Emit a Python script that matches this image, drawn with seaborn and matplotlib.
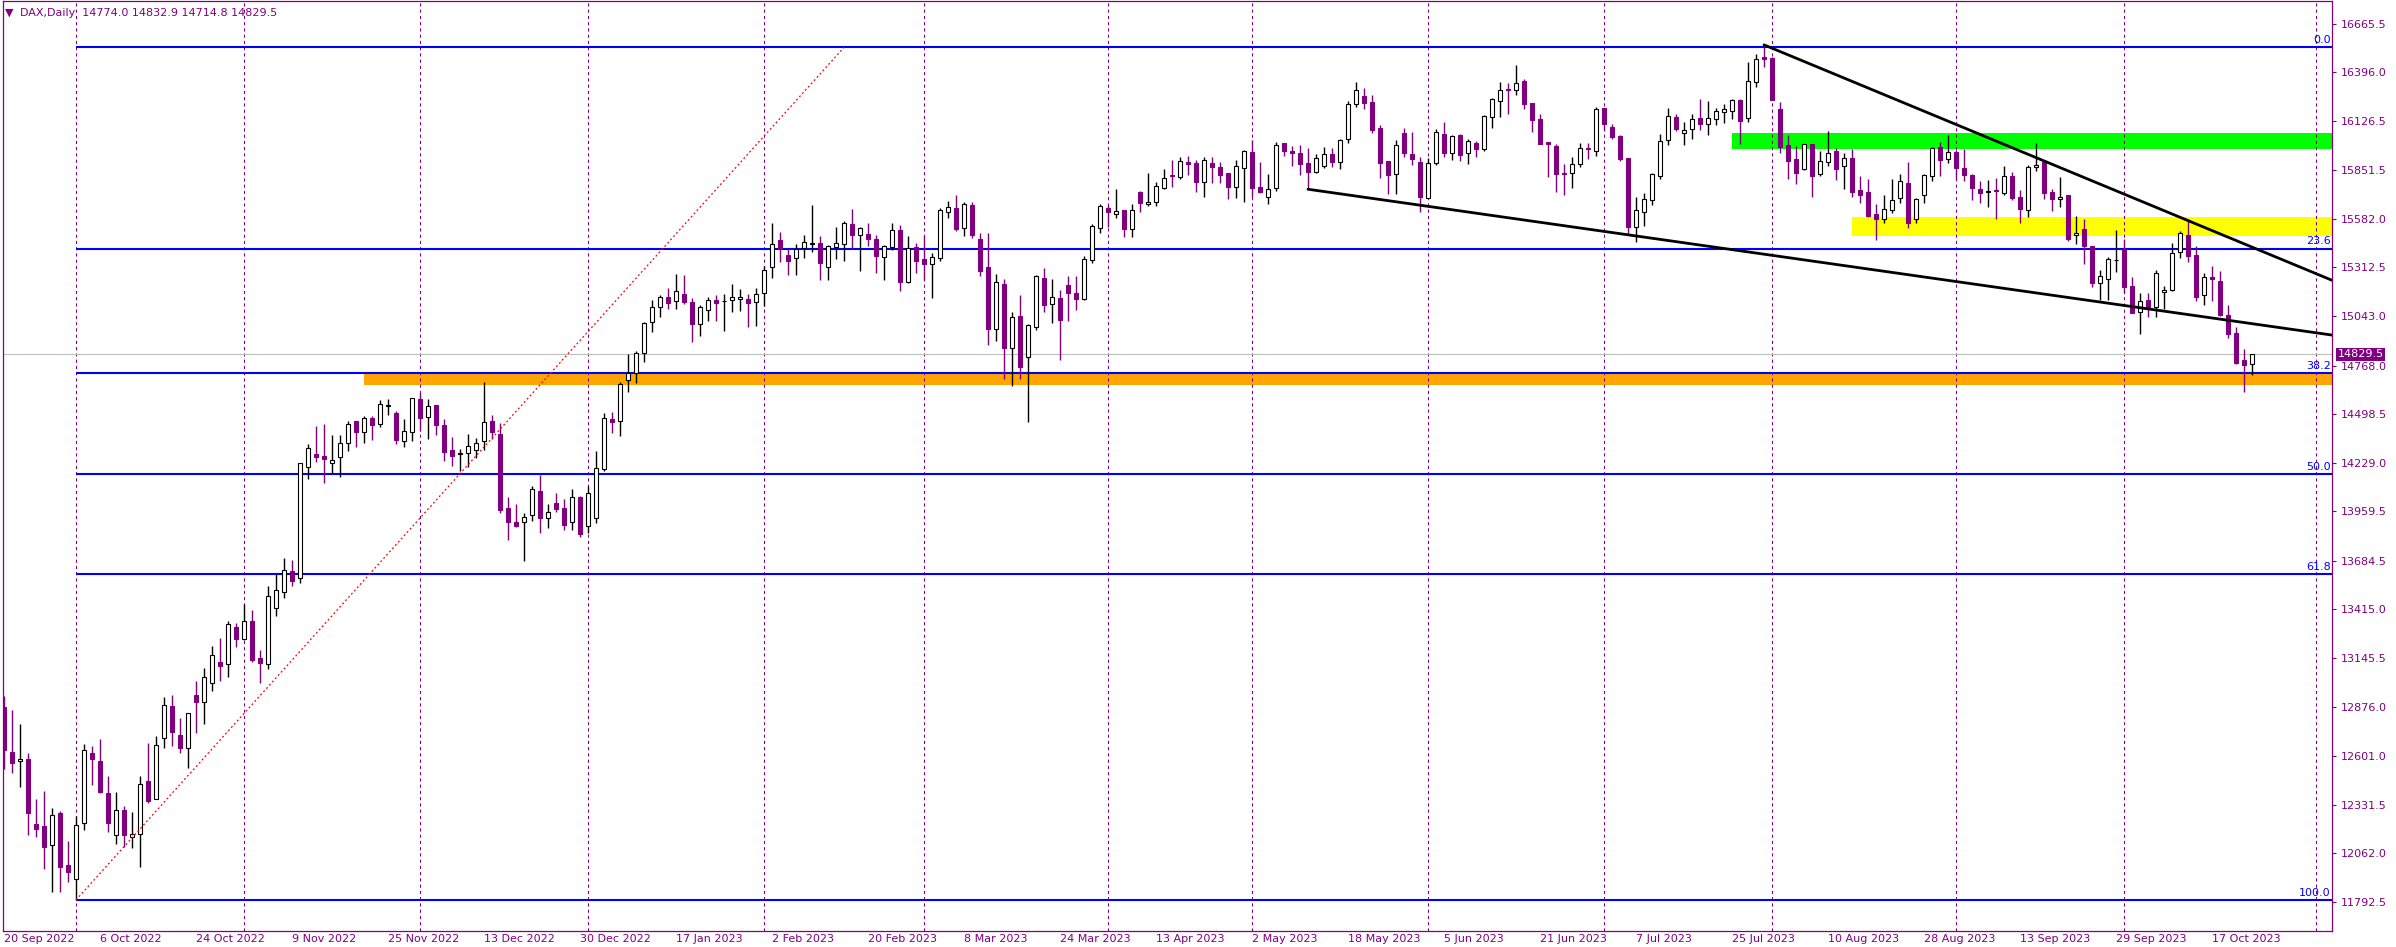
import numpy as np
import pandas as pd
import matplotlib
matplotlib.use("Agg")
import matplotlib.pyplot as plt
from matplotlib.transforms import blended_transform_factory
import seaborn as sns

sns.set_theme(style="white")
plt.rcParams['font.family'] = ['DejaVu Sans']

PURPLE = '#800080'

# trading days on the chart (Xetra holidays removed)
holidays = pd.to_datetime(['2022-12-26', '2023-04-07', '2023-04-10', '2023-05-01'])
dates = pd.bdate_range('2022-09-20', '2023-10-24')
dates = dates[~dates.isin(holidays)]

# daily OHLC
opens = [12872, 12622, 12572, 12585, 12224, 12213, 12106, 12283, 11997, 11917, 12228, 12616,
         12574, 12394, 12161, 12302, 12152, 12167, 12463, 12361, 12700, 12879, 12716, 12644,
         12940, 12903, 13005, 13123, 13114, 13317, 13249, 13351, 13145, 13110, 13421, 13510,
         13626, 13587, 14203, 14277, 14266, 14227, 14259, 14336, 14460, 14401, 14475, 14442,
         14543, 14503, 14351, 14401, 14582, 14481, 14549, 14438, 14299, 14275, 14281, 14299,
         14349, 14460, 14388, 13976, 13900, 13898, 13937, 14072, 13920, 14003, 13976, 13898,
         14037, 13878, 13920, 14192, 14469, 14462, 14688, 14725, 14836, 15008, 15091, 15146,
         15126, 15163, 15119, 14996, 15076, 15130, 15124, 15130, 15135, 15135, 15119, 15168,
         15313, 15464, 15381, 15363, 15418, 15440, 15446, 15313, 15424, 15440, 15553, 15490,
         15498, 15470, 15368, 15424, 15520, 15233, 15424, 15359, 15329, 15366, 15618, 15640,
         15533, 15658, 15470, 15316, 14969, 15220, 14867, 15043, 14813, 14983, 15253, 15107,
         15141, 15215, 15172, 15135, 15352, 15529, 15640, 15607, 15631, 15524, 15731, 15664,
         15673, 15755, 15825, 15816, 15895, 15892, 15784, 15892, 15869, 15836, 15760, 15862,
         15953, 15758, 15705, 15755, 16003, 15956, 15947, 15890, 15842, 15877, 15942, 15899,
         16023, 16217, 16263, 16230, 16086, 15903, 15832, 16058, 15942, 15897, 15699, 15890,
         16052, 15945, 16047, 15945, 16003, 15967, 16145, 16236, 16302, 16295, 16347, 16224,
         16134, 16006, 15986, 15836, 15834, 15884, 15975, 15958, 16195, 16089, 16041, 15919,
         15538, 15622, 15684, 15821, 16017, 16145, 16056, 16078, 16139, 16106, 16137, 16173,
         16182, 16241, 16139, 16343, 16478, 16474, 16191, 15991, 15914, 15856, 15995, 15832,
         15899, 15956, 15875, 15919, 15742, 15729, 15609, 15583, 15633, 15696, 15779, 15579,
         15712, 15821, 15978, 15912, 15951, 15866, 15825, 15747, 15731, 15742, 15727, 15819,
         15701, 15631, 15868, 15899, 15731, 15690, 15714, 15492, 15525, 15431, 15228, 15246,
         15352, 15413, 15209, 15063, 15130, 15095, 15174, 15187, 15396, 15492, 15381, 15159,
         15257, 15237, 15048, 14947, 14799, 14774.0]
highs = [12935, 12857, 12779, 12616, 12361, 12407, 12311, 12296, 12130, 12269, 12668, 12657,
         12696, 12491, 12402, 12324, 12289, 12491, 12676, 12713, 12929, 12940, 12812, 12838,
         13018, 13088, 13212, 13258, 13351, 13339, 13445, 13412, 13190, 13545, 13609, 13700,
         13689, 14225, 14333, 14432, 14443, 14382, 14382, 14462, 14462, 14490, 14488, 14577,
         14582, 14516, 14469, 14586, 14614, 14580, 14549, 14469, 14370, 14305, 14388, 14364,
         14675, 14493, 14447, 14040, 14000, 13948, 14101, 14161, 14000, 14059, 14026, 14081,
         14044, 14100, 14296, 14503, 14508, 14678, 14832, 14850, 15011, 15132, 15157, 15196,
         15276, 15270, 15141, 15104, 15146, 15159, 15165, 15220, 15193, 15165, 15196, 15320,
         15560, 15511, 15413, 15442, 15492, 15659, 15487, 15437, 15535, 15572, 15636, 15535,
         15557, 15492, 15438, 15560, 15548, 15487, 15446, 15487, 15390, 15640, 15683, 15714,
         15677, 15677, 15501, 15505, 15276, 15248, 15067, 15159, 14998, 15270, 15311, 15248,
         15187, 15266, 15266, 15376, 15553, 15664, 15659, 15745, 15631, 15664, 15736, 15834,
         15788, 15856, 15908, 15927, 15930, 15908, 15923, 15927, 15897, 15838, 15908, 15964,
         16019, 15897, 15831, 16008, 16003, 15986, 15990, 15973, 15942, 15982, 15975, 16027,
         16236, 16343, 16306, 16269, 16102, 15903, 16019, 16084, 16064, 15927, 15917, 16080,
         16119, 16047, 16051, 16027, 16016, 16156, 16250, 16343, 16337, 16435, 16356, 16224,
         16163, 16010, 15995, 15884, 15927, 16001, 16001, 16204, 16195, 16106, 16045, 15919,
         15703, 15727, 15838, 16052, 16195, 16163, 16119, 16163, 16245, 16236, 16195, 16219,
         16245, 16247, 16450, 16496, 16533, 16478, 16232, 16045, 15986, 15995, 15995, 15960,
         16069, 15973, 15945, 15969, 15821, 15803, 15664, 15714, 15803, 15831, 15895, 15699,
         15829, 15978, 16006, 16045, 15964, 15967, 15831, 15793, 15797, 15807, 15875, 15843,
         15742, 15880, 16001, 15899, 15745, 15812, 15714, 15597, 15581, 15431, 15298, 15372,
         15520, 15468, 15261, 15172, 15169, 15298, 15209, 15446, 15516, 15579, 15433, 15283,
         15320, 15294, 15104, 14980, 14858, 14832.9]
lows = [12528, 12505, 12431, 12163, 12150, 11973, 11849, 11849, 11904, 11803, 12191, 12441,
        12398, 12182, 12111, 12099, 12089, 11984, 12343, 12361, 12644, 12659, 12616, 12533,
        12731, 12777, 12964, 13020, 13042, 13208, 13245, 13125, 13008, 13082, 13380, 13480,
        13547, 13563, 14140, 14235, 14118, 14170, 14148, 14296, 14318, 14336, 14355, 14429,
        14493, 14333, 14318, 14351, 14407, 14358, 14382, 14240, 14210, 14185, 14207, 14253,
        14299, 14358, 13952, 13800, 13870, 13685, 13907, 13837, 13865, 13957, 13855, 13855,
        13815, 13837, 13896, 14185, 14395, 14379, 14623, 14669, 14789, 14952, 15039, 15080,
        15080, 15109, 14900, 14934, 15017, 15017, 14961, 15067, 15072, 14983, 14989, 15100,
        15255, 15340, 15270, 15270, 15363, 15400, 15242, 15242, 15357, 15350, 15413, 15294,
        15431, 15283, 15242, 15409, 15183, 15224, 15283, 15242, 15144, 15350, 15585, 15516,
        15487, 15474, 15266, 14882, 14906, 14691, 14654, 14691, 14456, 14965, 15067, 15006,
        14799, 15017, 15076, 15131, 15335, 15501, 15538, 15584, 15479, 15483, 15622, 15655,
        15653, 15749, 15760, 15801, 15825, 15733, 15705, 15783, 15783, 15694, 15699, 15677,
        15705, 15727, 15662, 15738, 15932, 15877, 15823, 15746, 15838, 15862, 15871, 15856,
        16001, 16204, 16193, 16060, 15807, 15720, 15720, 15923, 15881, 15622, 15696, 15881,
        15923, 15908, 15905, 15886, 15923, 15958, 16088, 16145, 16162, 16269, 16189, 16065,
        15995, 15812, 15733, 15712, 15755, 15871, 15916, 15932, 16075, 16023, 15904, 15498,
        15455, 15544, 15659, 15803, 15991, 16071, 15991, 16025, 16075, 16047, 16102, 16115,
        16134, 15997, 16119, 16315, 16426, 16241, 15949, 15803, 15775, 15853, 15705, 15821,
        15877, 15797, 15749, 15701, 15671, 15590, 15464, 15560, 15616, 15671, 15533, 15557,
        15671, 15793, 15821, 15893, 15803, 15793, 15686, 15671, 15649, 15579, 15714, 15686,
        15561, 15590, 15849, 15694, 15627, 15649, 15461, 15442, 15329, 15202, 15132, 15132,
        15289, 15169, 15058, 14941, 15035, 15035, 15080, 15183, 15363, 15340, 15128, 15104,
        15128, 15043, 14919, 14776, 14623, 14714.8]
closes = [12635, 12561, 12585, 12287, 12195, 12095, 12274, 11988, 11960, 12219, 12635, 12583,
          12404, 12232, 12300, 12161, 12167, 12444, 12354, 12661, 12883, 12733, 12646, 12838,
          12903, 13038, 13160, 13103, 13332, 13249, 13351, 13134, 13119, 13489, 13521, 13632,
          13574, 14225, 14308, 14262, 14248, 14242, 14336, 14444, 14401, 14475, 14438, 14553,
          14547, 14355, 14407, 14586, 14479, 14545, 14440, 14290, 14268, 14281, 14323, 14340,
          14453, 14401, 13966, 13902, 13879, 13926, 14081, 13924, 13953, 13972, 13885, 14040,
          13835, 14059, 14198, 14475, 14456, 14664, 14725, 14836, 15006, 15091, 15150, 15113,
          15181, 15122, 14996, 15094, 15130, 15113, 15128, 15150, 15150, 15117, 15163, 15296,
          15440, 15422, 15350, 15414, 15451, 15446, 15335, 15431, 15446, 15557, 15494, 15529,
          15472, 15377, 15433, 15520, 15233, 15418, 15350, 15331, 15368, 15631, 15646, 15525,
          15664, 15492, 15294, 14971, 15233, 14867, 15035, 14762, 14991, 15265, 15106, 15146,
          15021, 15172, 15139, 15357, 15540, 15651, 15622, 15625, 15527, 15631, 15672, 15673,
          15764, 15808, 15821, 15903, 15888, 15788, 15908, 15871, 15827, 15760, 15875, 15958,
          15755, 15731, 15745, 15990, 15958, 15949, 15888, 15844, 15919, 15940, 15899, 16019,
          16219, 16295, 16226, 16075, 15893, 15825, 15990, 15949, 15916, 15705, 15890, 16062,
          15949, 16040, 15938, 16014, 15967, 16151, 16245, 16295, 16295, 16334, 16217, 16128,
          15999, 15995, 15832, 15832, 15884, 15973, 15967, 16189, 16108, 16038, 15914, 15538,
          15629, 15690, 15831, 16012, 16150, 16080, 16075, 16134, 16108, 16139, 16180, 16191,
          16239, 16126, 16345, 16467, 16470, 16241, 15982, 15904, 15838, 15995, 15821, 15901,
          15945, 15856, 15919, 15732, 15716, 15599, 15581, 15638, 15688, 15794, 15557, 15690,
          15825, 15973, 15908, 15951, 15866, 15825, 15755, 15727, 15734, 15736, 15819, 15699,
          15635, 15868, 15879, 15727, 15690, 15701, 15472, 15503, 15433, 15224, 15263, 15357,
          15355, 15206, 15061, 15128, 15080, 15279, 15189, 15390, 15501, 15377, 15150, 15261,
          15246, 15048, 14941, 14780, 14771, 14829.5]

# right scale labels
price_ticks = [16665.5, 16396.0, 16126.5, 15851.5, 15582.0, 15312.5, 15043.0, 14768.0, 14498.5,
               14229.0, 13959.5, 13684.5, 13415.0, 13145.5, 12876.0, 12601.0, 12331.5, 12062.0,
               11792.5]

# fibonacci retracement (from the Oct 2022 low to the Jul 2023 high)
fib_high = 16533.0
fib_low = 11803.0
fib_start_bar = 9
fib_levels = [0.0, 23.6, 38.2, 50.0, 61.8, 100.0]

# drawn objects: zones and trend lines (bar index, price)
zone_start = [216, 231, 45]
zone_low = [15967, 15488, 14662]
zone_high = [16056, 15591, 14723]
upper_line_x = [220, 291]
upper_line_y = [16547, 15241]
lower_line_x = [163, 291]
lower_line_y = [15746, 14937]
red_line_x = [9, 105]
red_line_y = [11803, 16533]

df = pd.DataFrame({'date': dates, 'open': opens, 'high': highs, 'low': lows, 'close': closes})
df['i'] = np.arange(len(df))

# ---- figure in MT4 pixel layout ----
W, H = 2396, 947
fig = plt.figure(figsize=(W / 100, H / 100), dpi=100)
fig.patch.set_facecolor('white')
left_px, right_px, top_px, bot_px = 2.7, 2332, 0.7, 931
ax = fig.add_axes([left_px / W, 1 - bot_px / H, (right_px - left_px) / W, (bot_px - top_px) / H])
ax.set_facecolor('white')

x_right = 291.0
ax.set_xlim(-0.1625, x_right)
ax.set_ylim(11630.8, 16792.0)

# zones (drawn as background)
zone_colors = ['#00FF00', '#FFFF00', '#FFA500']
for xs, lo, hi, col in zip(zone_start, zone_low, zone_high, zone_colors):
    ax.fill_between([xs, x_right + 5], lo, hi, color=col, lw=0, zorder=0.5)

# month separators
month_starts = [i for i in range(1, len(df)) if df['date'][i].month != df['date'][i - 1].month]
next_month = pd.Timestamp('2023-11-01')
month_starts.append(len(df) - 1 + (next_month - df['date'].iloc[-1]).days)
for m in month_starts:
    ax.axvline(m, color=PURPLE, lw=0.75, ls=(0, (3, 3)), zorder=1)

# current price line
ax.axhline(df['close'].iloc[-1], color='#C0C0C0', lw=0.8, zorder=1)

# fibonacci levels
trans = blended_transform_factory(ax.transAxes, ax.transData)
for lev in fib_levels:
    price = fib_high - (fib_high - fib_low) * lev / 100
    ax.hlines(price, fib_start_bar, x_right + 5, color='#0000FF', lw=1.5, zorder=1.5)
    ax.text(0.9995, price + 12, f"{lev:.1f}", transform=trans, ha='right', va='bottom',
            color='#0000FF', fontsize=8, zorder=6)

# candles
up = df['close'] >= df['open']
body_lo = df[['open', 'close']].min(axis=1)
body_h = (df['close'] - df['open']).abs().clip(lower=2)
ax.vlines(df['i'], df['low'], df['high'], colors=np.where(up, 'black', PURPLE), lw=1.0, zorder=3)
ax.bar(df['i'][up], body_h[up], bottom=body_lo[up], width=0.6, color='white',
       edgecolor='black', linewidth=0.8, zorder=4)
ax.bar(df['i'][~up], body_h[~up], bottom=body_lo[~up], width=0.6, color=PURPLE,
       edgecolor=PURPLE, linewidth=0.8, zorder=4)

# trend lines
sns.lineplot(x=upper_line_x, y=upper_line_y, ax=ax, color='black', lw=2.0, zorder=5)
sns.lineplot(x=lower_line_x, y=lower_line_y, ax=ax, color='black', lw=2.0, zorder=5)
ax.plot(red_line_x, red_line_y, color='red', lw=0.9, ls=(0, (1.5, 2)), zorder=5)

# axes styling
for s in ax.spines.values():
    s.set_color(PURPLE)
    s.set_linewidth(0.9)
ax.grid(False)
ax.yaxis.tick_right()
ax.set_yticks(price_ticks)
ax.set_yticklabels([f"{v:.1f}" for v in price_ticks])
ax.tick_params(axis='y', colors=PURPLE, labelcolor=PURPLE, length=3, width=0.8,
               pad=3, labelsize=8, right=True, left=False)
tick_idx = list(range(0, len(df), 12))
ax.set_xticks(tick_idx)
ax.set_xticklabels([f"{d.day} {d.strftime('%b %Y')}" for d in df['date'].iloc[tick_idx]],
                   ha='left')
ax.tick_params(axis='x', colors=PURPLE, labelcolor=PURPLE, length=0, pad=2, labelsize=8)
ax.set_xlabel('')
ax.set_ylabel('')

# current price tag on the scale
last = df['close'].iloc[-1]
ax.annotate(f"{last:.1f}", xy=(1, last), xycoords=trans, xytext=(4, 0),
            textcoords='offset points', ha='left', va='center', color='white', fontsize=8,
            bbox=dict(boxstyle='square,pad=0.15', fc=PURPLE, ec='none'),
            annotation_clip=False, zorder=10)

# header
fig.text(5 / W, 1 - 12.5 / H, "\u25BC", fontsize=8, color=PURPLE, va='center', ha='left')
hdr = (f"DAX,Daily  {df['open'].iloc[-1]:.1f} {df['high'].iloc[-1]:.1f} "
       f"{df['low'].iloc[-1]:.1f} {df['close'].iloc[-1]:.1f}")
fig.text(20.5 / W, 1 - 12.7 / H, hdr, fontsize=8, color=PURPLE, va='center', ha='left')

fig.savefig('out.png', dpi=100)
